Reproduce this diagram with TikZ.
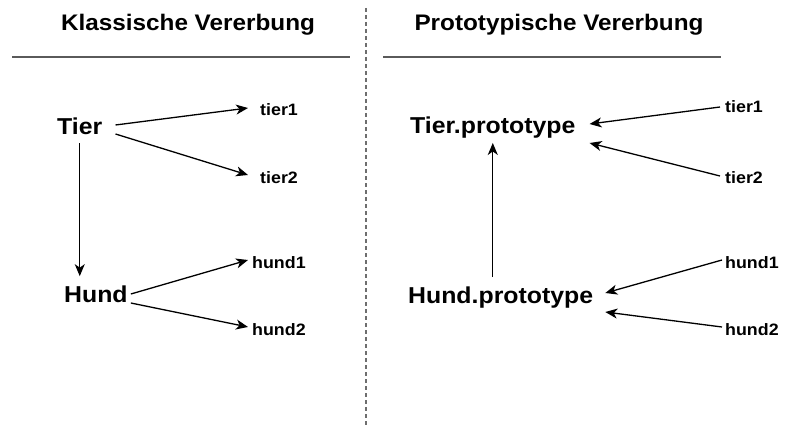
\documentclass[tikz,border=0pt]{standalone}
\usepackage{fontspec}
\setmainfont{Liberation Sans}[FakeStretch=1.08]
\usetikzlibrary{arrows.meta}
\definecolor{rulegray}{RGB}{90,90,90}
\definecolor{dashgray}{RGB}{110,110,110}
\begin{document}
\begin{tikzpicture}[x=1pt,y=-1pt,
  ttl/.style={inner sep=0pt,font=\bfseries\fontsize{22.5}{24}\selectfont},
  cls/.style={inner sep=0pt,anchor=base west,font=\bfseries\fontsize{23}{24}\selectfont},
  obj/.style={inner sep=0pt,anchor=base west,font=\bfseries\fontsize{16.5}{18}\selectfont},
  arr/.style={-{Stealth[length=12pt,width=10pt,inset=3.5pt]},line width=1.3pt}]
\useasboundingbox (0,0) rectangle (786,425);
% titles
\node[ttl,anchor=base] (titleL) at (188,31) {Klassische Vererbung};
\node[ttl,anchor=base] (titleR) at (559,31) {Prototypische Vererbung};
\draw[rulegray,line width=1.5pt] (12,57) -- (350,57) (383,57) -- (721,57);
\draw[dashgray,line width=1.5pt,dash pattern=on 4pt off 3pt] (366,8) -- (366,425);
% klassisch
\node[cls] (tierL) at (57,135) {Tier};
\node[cls] (hundL) at (64,302) {Hund};
\node[obj] (t1L) at (260,115) {tier1};
\node[obj] (t2L) at (260,183) {tier2};
\node[obj] (h1L) at (252,268) {hund1};
\node[obj] (h2L) at (252,335) {hund2};
\draw[arr] ([xshift=13pt,yshift=10pt]tierL.base east) -- ([xshift=-12pt,yshift=7pt]t1L.base west);
\draw[arr] ([xshift=13pt,yshift=1pt]tierL.base east) -- ([xshift=-12pt,yshift=8pt]t2L.base west);
\draw[arr,shorten <=8pt,shorten >=9pt] (tierL.south) -- (tierL.south |- hundL.north);
\draw[arr] ([xshift=3pt,yshift=8pt]hundL.base east) -- ([xshift=-4pt,yshift=8pt]h1L.base west);
\draw[arr] ([xshift=3pt,yshift=-1pt]hundL.base east) -- ([xshift=-4pt,yshift=8pt]h2L.base west);
% prototypisch
\node[cls] (tierR) at (410,133) {Tier.prototype};
\node[cls] (hundR) at (408,303) {Hund.prototype};
\node[obj] (t1R) at (725,113) {tier1};
\node[obj] (t2R) at (725,183) {tier2};
\node[obj] (h1R) at (725,268) {hund1};
\node[obj] (h2R) at (725,335) {hund2};
\draw[arr] ([xshift=-5pt,yshift=6pt]t1R.base west) -- ([xshift=14pt,yshift=9pt]tierR.base east);
\draw[arr] ([xshift=-5pt,yshift=7pt]t2R.base west) -- ([xshift=14pt,yshift=-10pt]tierR.base east);
\draw[arr,shorten <=9pt,shorten >=5pt] (tierR.south |- hundR.north) -- (tierR.south);
\draw[arr] ([xshift=-3pt,yshift=8pt]h1R.base west) -- ([xshift=12pt,yshift=10pt]hundR.base east);
\draw[arr] ([xshift=-3pt,yshift=8pt]h2R.base west) -- ([xshift=12pt,yshift=-9pt]hundR.base east);
\end{tikzpicture}
\end{document}
